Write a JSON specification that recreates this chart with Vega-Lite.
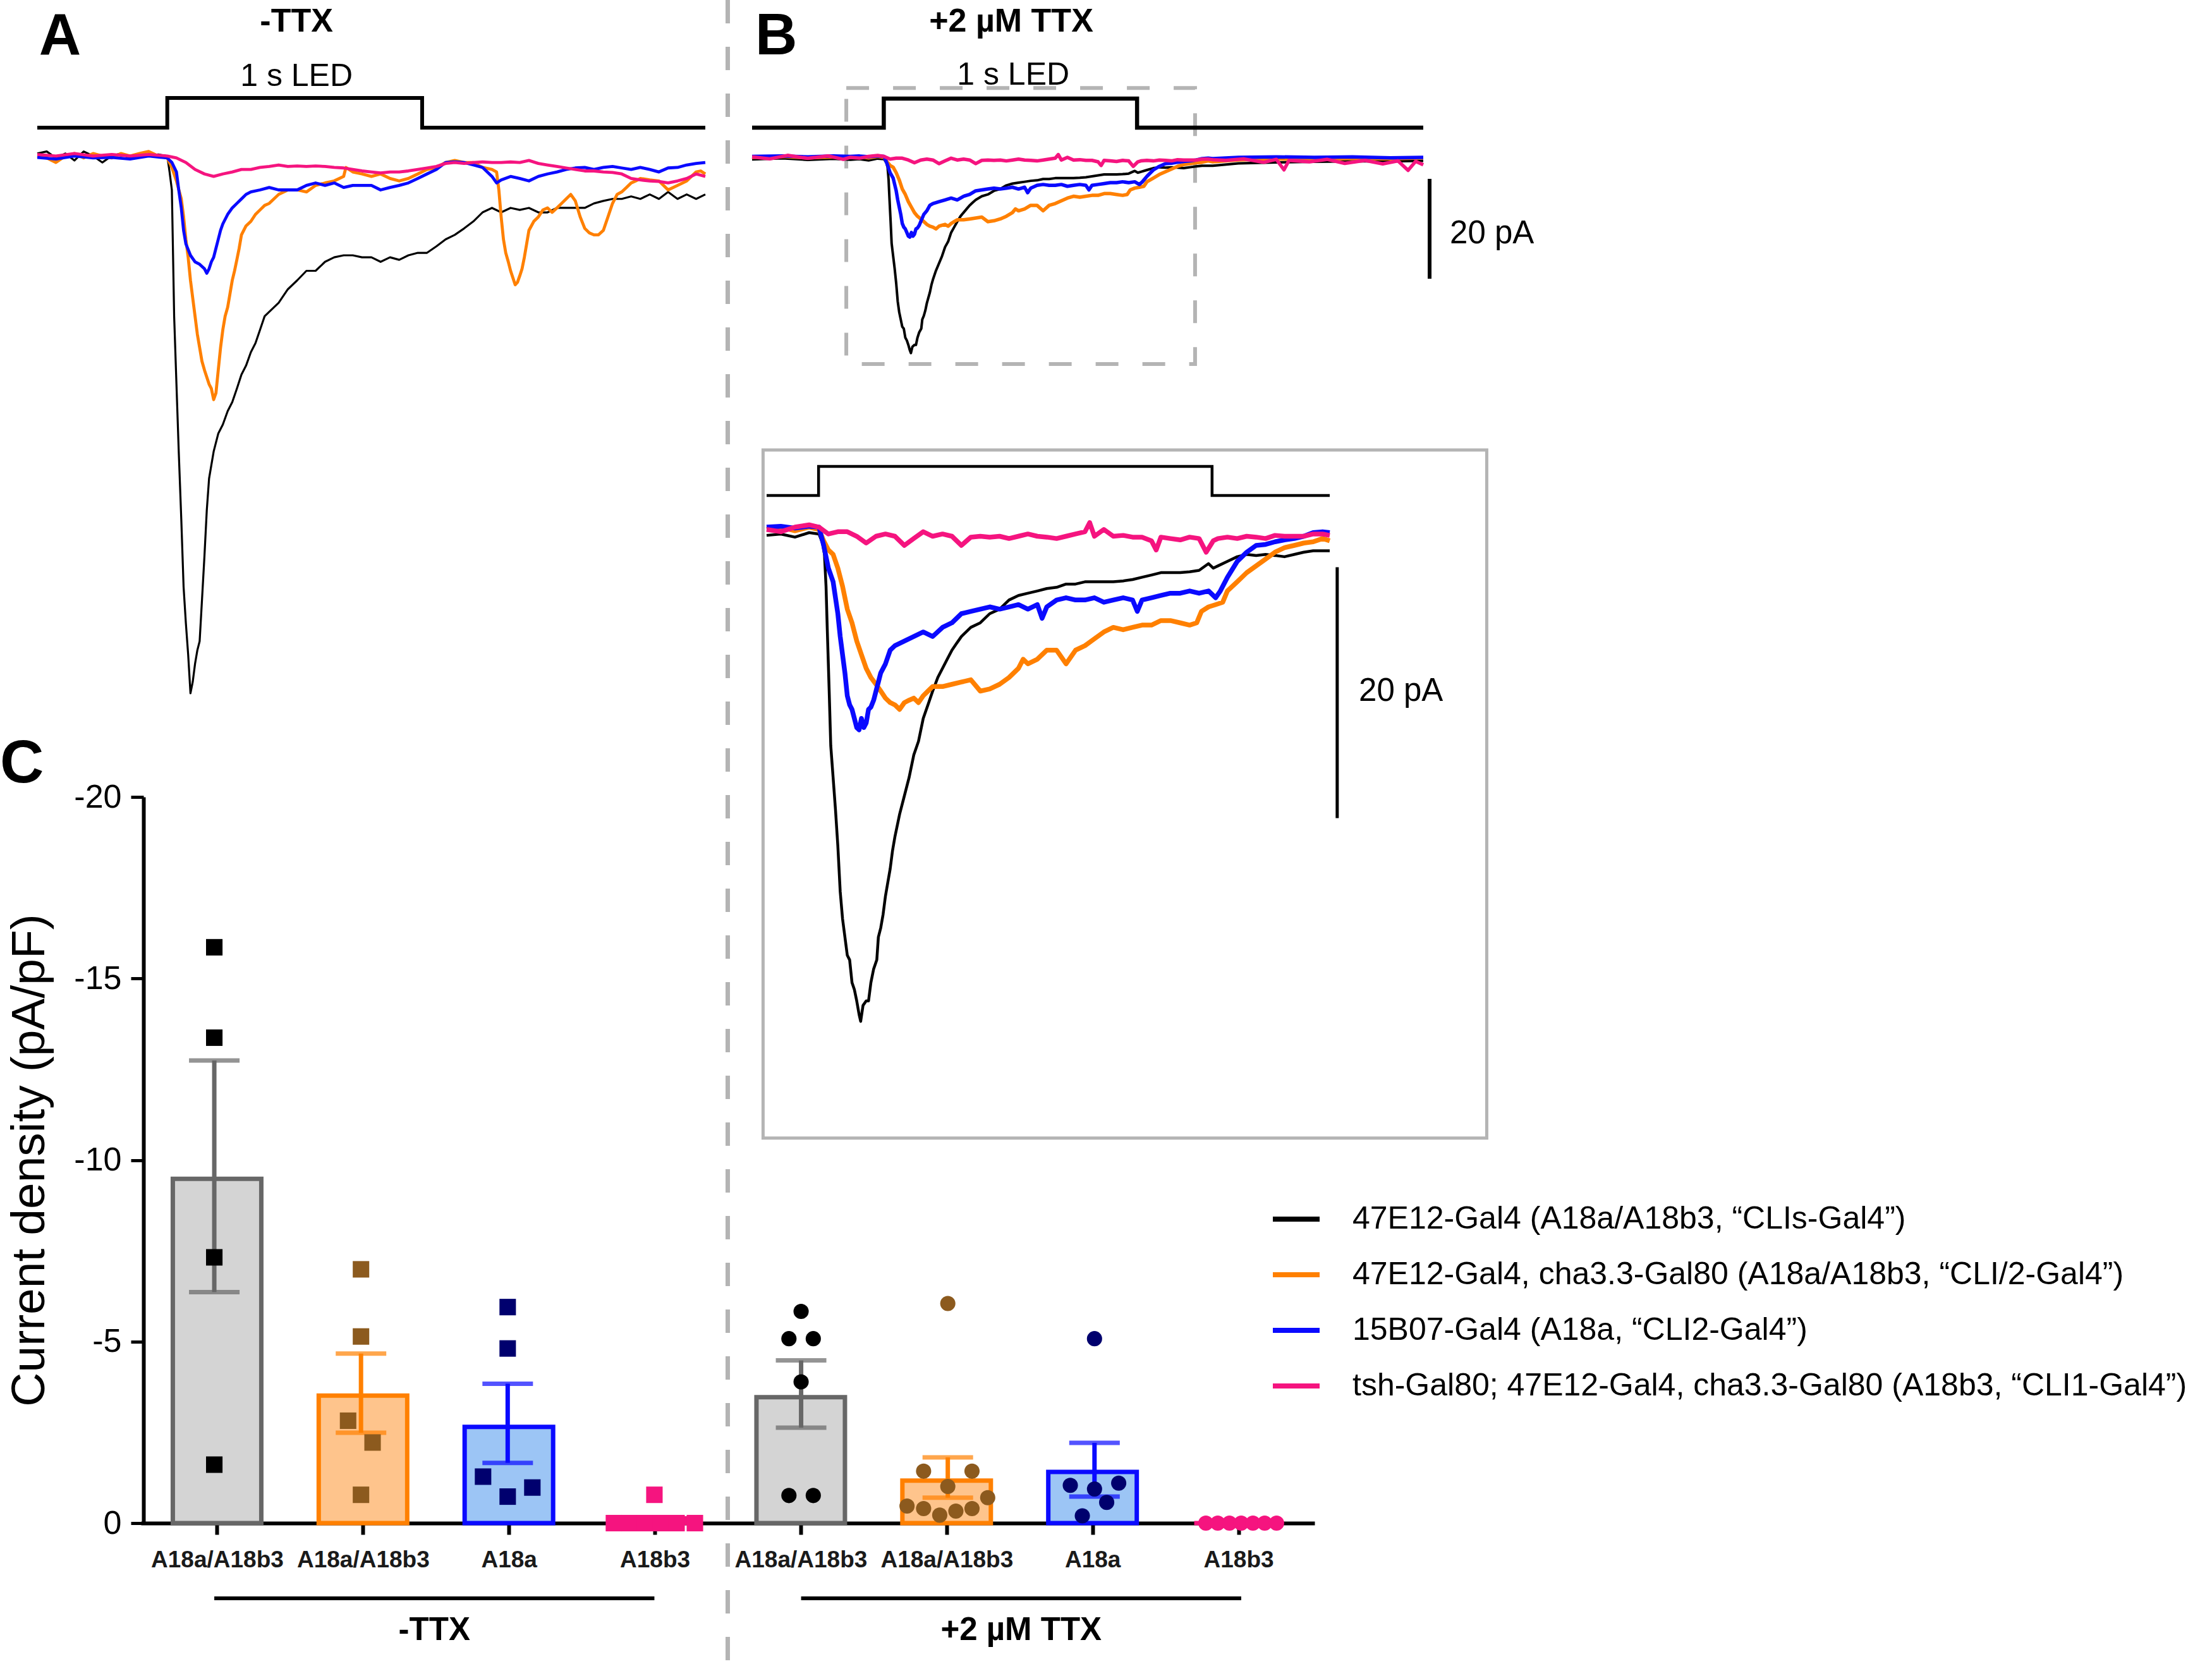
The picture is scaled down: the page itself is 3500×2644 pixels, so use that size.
{
"$schema": "https://vega.github.io/schema/vega-lite/v6.json",
"width": 3500, "height": 2644, "autosize": "none", "padding": 0, "background": "white",
"config": {"view": {"stroke": null}, "font": "Liberation Sans"},
"resolve": {"scale": {"x": "independent", "y": "independent", "color": "independent", "shape": "independent", "size": "independent"}, "axis": {"x": "independent", "y": "independent"}, "legend": {"color": "independent", "shape": "independent", "size": "independent"}},
"datasets": {
"tA": [
{"s":"k1","t":-0.510,"i":0.4},{"s":"k1","t":-0.473,"i":0.8},{"s":"k1","t":-0.437,"i":-0.5},{"s":"k1","t":-0.400,"i":0.4},{"s":"k1","t":-0.364,"i":-1.0},{"s":"k1","t":-0.328,"i":0.8},{"s":"k1","t":-0.291,"i":-0.1},{"s":"k1","t":-0.255,"i":-1.4},{"s":"k1","t":-0.218,"i":-0.1},{"s":"k1","t":-0.182,"i":0.4},{"s":"k1","t":-0.146,"i":-0.5},{"s":"k1","t":-0.109,"i":0.4},{"s":"k1","t":-0.073,"i":-0.1},{"s":"k1","t":-0.036,"i":0.2},{"s":"k1","t":0,"i":-0.1},{"s":"k1","t":0.009,"i":-3.3},{"s":"k1","t":0.018,"i":-6.9},{"s":"k1","t":0.027,"i":-32.2},{"s":"k1","t":0.036,"i":-45.8},{"s":"k1","t":0.045,"i":-59.3},{"s":"k1","t":0.055,"i":-72.9},{"s":"k1","t":0.064,"i":-86.4},{"s":"k1","t":0.073,"i":-93.7},{"s":"k1","t":0.082,"i":-100.0},{"s":"k1","t":0.091,"i":-107.7},{"s":"k1","t":0.100,"i":-105.4},{"s":"k1","t":0.109,"i":-101.8},{"s":"k1","t":0.118,"i":-99.1},{"s":"k1","t":0.127,"i":-97.3},{"s":"k1","t":0.136,"i":-89.2},{"s":"k1","t":0.146,"i":-80.1},{"s":"k1","t":0.155,"i":-71.1},{"s":"k1","t":0.164,"i":-64.7},{"s":"k1","t":0.182,"i":-59.3},{"s":"k1","t":0.200,"i":-55.7},{"s":"k1","t":0.218,"i":-53.9},{"s":"k1","t":0.237,"i":-51.2},{"s":"k1","t":0.255,"i":-49.4},{"s":"k1","t":0.273,"i":-46.7},{"s":"k1","t":0.291,"i":-43.9},{"s":"k1","t":0.309,"i":-42.1},{"s":"k1","t":0.328,"i":-39.4},{"s":"k1","t":0.346,"i":-37.6},{"s":"k1","t":0.364,"i":-34.9},{"s":"k1","t":0.382,"i":-32.2},{"s":"k1","t":0.400,"i":-31.3},{"s":"k1","t":0.437,"i":-29.5},{"s":"k1","t":0.473,"i":-26.8},{"s":"k1","t":0.510,"i":-25.0},{"s":"k1","t":0.546,"i":-23.1},{"s":"k1","t":0.582,"i":-23.1},{"s":"k1","t":0.619,"i":-21.3},{"s":"k1","t":0.655,"i":-20.4},{"s":"k1","t":0.692,"i":-20.0},{"s":"k1","t":0.728,"i":-20.0},{"s":"k1","t":0.764,"i":-20.4},{"s":"k1","t":0.801,"i":-20.4},{"s":"k1","t":0.837,"i":-21.3},{"s":"k1","t":0.874,"i":-20.4},{"s":"k1","t":0.910,"i":-20.9},{"s":"k1","t":0.946,"i":-20.0},{"s":"k1","t":0.983,"i":-19.5},{"s":"k1","t":1.019,"i":-19.5},{"s":"k1","t":1.056,"i":-18.2},{"s":"k1","t":1.092,"i":-16.8},{"s":"k1","t":1.128,"i":-15.9},{"s":"k1","t":1.165,"i":-14.6},{"s":"k1","t":1.201,"i":-13.2},{"s":"k1","t":1.237,"i":-11.4},{"s":"k1","t":1.274,"i":-10.5},{"s":"k1","t":1.310,"i":-11.4},{"s":"k1","t":1.347,"i":-10.5},{"s":"k1","t":1.383,"i":-10.9},{"s":"k1","t":1.419,"i":-10.5},{"s":"k1","t":1.456,"i":-11.4},{"s":"k1","t":1.492,"i":-11.4},{"s":"k1","t":1.529,"i":-10.5},{"s":"k1","t":1.565,"i":-10.5},{"s":"k1","t":1.601,"i":-10.5},{"s":"k1","t":1.638,"i":-10.5},{"s":"k1","t":1.674,"i":-9.6},{"s":"k1","t":1.711,"i":-9.1},{"s":"k1","t":1.747,"i":-8.7},{"s":"k1","t":1.783,"i":-8.7},{"s":"k1","t":1.820,"i":-8.2},{"s":"k1","t":1.856,"i":-8.7},{"s":"k1","t":1.893,"i":-7.8},{"s":"k1","t":1.929,"i":-8.7},{"s":"k1","t":1.965,"i":-7.3},{"s":"k1","t":2.002,"i":-8.7},{"s":"k1","t":2.038,"i":-7.8},{"s":"k1","t":2.075,"i":-8.7},{"s":"k1","t":2.111,"i":-7.8},
{"s":"k2","t":-0.510,"i":-0.1},{"s":"k2","t":-0.473,"i":-0.5},{"s":"k2","t":-0.437,"i":-1.4},{"s":"k2","t":-0.400,"i":-0.1},{"s":"k2","t":-0.364,"i":0.4},{"s":"k2","t":-0.328,"i":-0.5},{"s":"k2","t":-0.291,"i":0.4},{"s":"k2","t":-0.255,"i":-0.1},{"s":"k2","t":-0.218,"i":-0.5},{"s":"k2","t":-0.182,"i":0.4},{"s":"k2","t":-0.146,"i":-0.1},{"s":"k2","t":-0.109,"i":0.4},{"s":"k2","t":-0.073,"i":0.8},{"s":"k2","t":-0.036,"i":-0.1},{"s":"k2","t":0,"i":-0.5},{"s":"k2","t":0.018,"i":-2.4},{"s":"k2","t":0.036,"i":-5.1},{"s":"k2","t":0.055,"i":-8.7},{"s":"k2","t":0.064,"i":-12.3},{"s":"k2","t":0.073,"i":-16.8},{"s":"k2","t":0.082,"i":-20.4},{"s":"k2","t":0.091,"i":-25.0},{"s":"k2","t":0.100,"i":-28.6},{"s":"k2","t":0.109,"i":-32.2},{"s":"k2","t":0.118,"i":-35.8},{"s":"k2","t":0.127,"i":-38.5},{"s":"k2","t":0.136,"i":-41.2},{"s":"k2","t":0.146,"i":-43.0},{"s":"k2","t":0.155,"i":-44.4},{"s":"k2","t":0.164,"i":-45.8},{"s":"k2","t":0.173,"i":-46.7},{"s":"k2","t":0.182,"i":-48.9},{"s":"k2","t":0.191,"i":-47.6},{"s":"k2","t":0.200,"i":-43.0},{"s":"k2","t":0.209,"i":-38.5},{"s":"k2","t":0.218,"i":-34.9},{"s":"k2","t":0.227,"i":-32.2},{"s":"k2","t":0.237,"i":-30.4},{"s":"k2","t":0.246,"i":-27.7},{"s":"k2","t":0.255,"i":-25.0},{"s":"k2","t":0.264,"i":-23.1},{"s":"k2","t":0.273,"i":-20.9},{"s":"k2","t":0.282,"i":-18.6},{"s":"k2","t":0.291,"i":-15.9},{"s":"k2","t":0.309,"i":-14.1},{"s":"k2","t":0.328,"i":-13.2},{"s":"k2","t":0.346,"i":-11.8},{"s":"k2","t":0.364,"i":-10.9},{"s":"k2","t":0.382,"i":-10.0},{"s":"k2","t":0.400,"i":-9.6},{"s":"k2","t":0.437,"i":-7.8},{"s":"k2","t":0.473,"i":-6.9},{"s":"k2","t":0.510,"i":-6.9},{"s":"k2","t":0.546,"i":-7.3},{"s":"k2","t":0.582,"i":-6.0},{"s":"k2","t":0.619,"i":-5.5},{"s":"k2","t":0.655,"i":-5.1},{"s":"k2","t":0.692,"i":-4.2},{"s":"k2","t":0.701,"i":-2.4},{"s":"k2","t":0.728,"i":-3.3},{"s":"k2","t":0.764,"i":-3.7},{"s":"k2","t":0.801,"i":-4.2},{"s":"k2","t":0.837,"i":-3.7},{"s":"k2","t":0.874,"i":-4.6},{"s":"k2","t":0.910,"i":-5.1},{"s":"k2","t":0.946,"i":-4.6},{"s":"k2","t":0.983,"i":-3.7},{"s":"k2","t":1.019,"i":-2.8},{"s":"k2","t":1.056,"i":-2.4},{"s":"k2","t":1.092,"i":-1.4},{"s":"k2","t":1.128,"i":-1.0},{"s":"k2","t":1.165,"i":-1.4},{"s":"k2","t":1.201,"i":-1.4},{"s":"k2","t":1.237,"i":-2.4},{"s":"k2","t":1.274,"i":-2.8},{"s":"k2","t":1.292,"i":-3.3},{"s":"k2","t":1.301,"i":-6.9},{"s":"k2","t":1.310,"i":-12.3},{"s":"k2","t":1.319,"i":-16.8},{"s":"k2","t":1.328,"i":-19.5},{"s":"k2","t":1.338,"i":-21.3},{"s":"k2","t":1.347,"i":-23.1},{"s":"k2","t":1.356,"i":-24.5},{"s":"k2","t":1.365,"i":-25.9},{"s":"k2","t":1.374,"i":-25.4},{"s":"k2","t":1.383,"i":-24.1},{"s":"k2","t":1.392,"i":-22.7},{"s":"k2","t":1.401,"i":-20.4},{"s":"k2","t":1.410,"i":-17.7},{"s":"k2","t":1.419,"i":-15.0},{"s":"k2","t":1.438,"i":-13.2},{"s":"k2","t":1.456,"i":-12.3},{"s":"k2","t":1.474,"i":-10.9},{"s":"k2","t":1.492,"i":-10.5},{"s":"k2","t":1.510,"i":-11.4},{"s":"k2","t":1.529,"i":-10.5},{"s":"k2","t":1.547,"i":-9.6},{"s":"k2","t":1.565,"i":-8.7},{"s":"k2","t":1.583,"i":-7.8},{"s":"k2","t":1.601,"i":-9.1},{"s":"k2","t":1.620,"i":-12.3},{"s":"k2","t":1.638,"i":-14.6},{"s":"k2","t":1.656,"i":-15.5},{"s":"k2","t":1.674,"i":-15.9},{"s":"k2","t":1.692,"i":-15.9},{"s":"k2","t":1.711,"i":-15.0},{"s":"k2","t":1.729,"i":-12.3},{"s":"k2","t":1.747,"i":-9.6},{"s":"k2","t":1.765,"i":-7.8},{"s":"k2","t":1.783,"i":-7.3},{"s":"k2","t":1.802,"i":-6.4},{"s":"k2","t":1.820,"i":-5.5},{"s":"k2","t":1.838,"i":-5.1},{"s":"k2","t":1.856,"i":-4.6},{"s":"k2","t":1.893,"i":-4.9},{"s":"k2","t":1.929,"i":-5.1},{"s":"k2","t":1.965,"i":-6.9},{"s":"k2","t":2.002,"i":-6.0},{"s":"k2","t":2.038,"i":-5.1},{"s":"k2","t":2.075,"i":-3.3},{"s":"k2","t":2.093,"i":-3.1},{"s":"k2","t":2.111,"i":-3.7},
{"s":"k3","t":-0.510,"i":-0.4},{"s":"k3","t":-0.437,"i":-0.7},{"s":"k3","t":-0.364,"i":-0.1},{"s":"k3","t":-0.291,"i":-0.5},{"s":"k3","t":-0.218,"i":-0.4},{"s":"k3","t":-0.146,"i":-0.7},{"s":"k3","t":-0.073,"i":-0.1},{"s":"k3","t":0,"i":-0.5},{"s":"k3","t":0.018,"i":-1.4},{"s":"k3","t":0.036,"i":-3.3},{"s":"k3","t":0.045,"i":-6.9},{"s":"k3","t":0.055,"i":-10.5},{"s":"k3","t":0.064,"i":-15.0},{"s":"k3","t":0.073,"i":-17.7},{"s":"k3","t":0.091,"i":-20.0},{"s":"k3","t":0.109,"i":-21.3},{"s":"k3","t":0.127,"i":-21.8},{"s":"k3","t":0.146,"i":-22.7},{"s":"k3","t":0.155,"i":-23.6},{"s":"k3","t":0.164,"i":-22.7},{"s":"k3","t":0.173,"i":-21.3},{"s":"k3","t":0.182,"i":-20.4},{"s":"k3","t":0.191,"i":-18.6},{"s":"k3","t":0.200,"i":-16.8},{"s":"k3","t":0.209,"i":-15.0},{"s":"k3","t":0.218,"i":-13.7},{"s":"k3","t":0.237,"i":-11.8},{"s":"k3","t":0.255,"i":-10.5},{"s":"k3","t":0.273,"i":-9.6},{"s":"k3","t":0.291,"i":-8.7},{"s":"k3","t":0.309,"i":-7.8},{"s":"k3","t":0.328,"i":-7.3},{"s":"k3","t":0.364,"i":-6.9},{"s":"k3","t":0.400,"i":-6.4},{"s":"k3","t":0.437,"i":-6.9},{"s":"k3","t":0.473,"i":-6.9},{"s":"k3","t":0.510,"i":-6.9},{"s":"k3","t":0.546,"i":-6.0},{"s":"k3","t":0.582,"i":-5.5},{"s":"k3","t":0.619,"i":-6.0},{"s":"k3","t":0.655,"i":-5.5},{"s":"k3","t":0.692,"i":-6.4},{"s":"k3","t":0.728,"i":-6.0},{"s":"k3","t":0.764,"i":-6.0},{"s":"k3","t":0.801,"i":-6.0},{"s":"k3","t":0.837,"i":-6.9},{"s":"k3","t":0.874,"i":-6.4},{"s":"k3","t":0.910,"i":-6.0},{"s":"k3","t":0.946,"i":-5.5},{"s":"k3","t":0.983,"i":-4.6},{"s":"k3","t":1.019,"i":-3.7},{"s":"k3","t":1.056,"i":-2.8},{"s":"k3","t":1.092,"i":-1.4},{"s":"k3","t":1.128,"i":-1.3},{"s":"k3","t":1.165,"i":-1.4},{"s":"k3","t":1.201,"i":-1.9},{"s":"k3","t":1.237,"i":-2.4},{"s":"k3","t":1.274,"i":-4.2},{"s":"k3","t":1.292,"i":-5.5},{"s":"k3","t":1.310,"i":-4.9},{"s":"k3","t":1.347,"i":-4.2},{"s":"k3","t":1.383,"i":-4.6},{"s":"k3","t":1.419,"i":-5.1},{"s":"k3","t":1.456,"i":-4.2},{"s":"k3","t":1.492,"i":-3.7},{"s":"k3","t":1.529,"i":-3.3},{"s":"k3","t":1.565,"i":-2.8},{"s":"k3","t":1.601,"i":-2.5},{"s":"k3","t":1.638,"i":-2.4},{"s":"k3","t":1.674,"i":-2.8},{"s":"k3","t":1.711,"i":-2.4},{"s":"k3","t":1.747,"i":-2.2},{"s":"k3","t":1.783,"i":-2.5},{"s":"k3","t":1.820,"i":-2.8},{"s":"k3","t":1.856,"i":-2.4},{"s":"k3","t":1.893,"i":-2.8},{"s":"k3","t":1.929,"i":-3.3},{"s":"k3","t":1.965,"i":-2.5},{"s":"k3","t":2.002,"i":-2.4},{"s":"k3","t":2.038,"i":-1.9},{"s":"k3","t":2.075,"i":-1.6},{"s":"k3","t":2.111,"i":-1.4},
{"s":"k4","t":-0.510,"i":0.2},{"s":"k4","t":-0.437,"i":-0.1},{"s":"k4","t":-0.364,"i":0.4},{"s":"k4","t":-0.291,"i":-0.1},{"s":"k4","t":-0.218,"i":0.2},{"s":"k4","t":-0.146,"i":-0.1},{"s":"k4","t":-0.073,"i":0.2},{"s":"k4","t":0,"i":-0.1},{"s":"k4","t":0.036,"i":-0.5},{"s":"k4","t":0.073,"i":-1.4},{"s":"k4","t":0.109,"i":-2.8},{"s":"k4","t":0.146,"i":-3.7},{"s":"k4","t":0.182,"i":-4.2},{"s":"k4","t":0.218,"i":-3.7},{"s":"k4","t":0.255,"i":-3.3},{"s":"k4","t":0.291,"i":-2.8},{"s":"k4","t":0.328,"i":-2.8},{"s":"k4","t":0.364,"i":-2.4},{"s":"k4","t":0.400,"i":-2.2},{"s":"k4","t":0.437,"i":-1.9},{"s":"k4","t":0.473,"i":-2.2},{"s":"k4","t":0.510,"i":-2.1},{"s":"k4","t":0.546,"i":-2.2},{"s":"k4","t":0.582,"i":-2.1},{"s":"k4","t":0.619,"i":-2.2},{"s":"k4","t":0.655,"i":-2.4},{"s":"k4","t":0.692,"i":-2.5},{"s":"k4","t":0.728,"i":-2.8},{"s":"k4","t":0.764,"i":-3.1},{"s":"k4","t":0.801,"i":-3.3},{"s":"k4","t":0.837,"i":-3.5},{"s":"k4","t":0.874,"i":-3.3},{"s":"k4","t":0.910,"i":-3.3},{"s":"k4","t":0.946,"i":-3.1},{"s":"k4","t":0.983,"i":-2.8},{"s":"k4","t":1.019,"i":-2.5},{"s":"k4","t":1.056,"i":-2.2},{"s":"k4","t":1.092,"i":-1.6},{"s":"k4","t":1.128,"i":-1.4},{"s":"k4","t":1.165,"i":-1.6},{"s":"k4","t":1.201,"i":-1.4},{"s":"k4","t":1.237,"i":-1.3},{"s":"k4","t":1.274,"i":-1.4},{"s":"k4","t":1.310,"i":-1.4},{"s":"k4","t":1.347,"i":-1.3},{"s":"k4","t":1.383,"i":-1.4},{"s":"k4","t":1.419,"i":-1.0},{"s":"k4","t":1.456,"i":-1.6},{"s":"k4","t":1.492,"i":-1.9},{"s":"k4","t":1.529,"i":-2.2},{"s":"k4","t":1.565,"i":-2.5},{"s":"k4","t":1.601,"i":-2.8},{"s":"k4","t":1.638,"i":-3.1},{"s":"k4","t":1.674,"i":-3.1},{"s":"k4","t":1.711,"i":-3.3},{"s":"k4","t":1.747,"i":-3.4},{"s":"k4","t":1.783,"i":-3.7},{"s":"k4","t":1.820,"i":-4.6},{"s":"k4","t":1.856,"i":-4.9},{"s":"k4","t":1.893,"i":-5.1},{"s":"k4","t":1.929,"i":-5.2},{"s":"k4","t":1.965,"i":-5.5},{"s":"k4","t":2.002,"i":-5.1},{"s":"k4","t":2.038,"i":-4.6},{"s":"k4","t":2.075,"i":-3.7},{"s":"k4","t":2.111,"i":-4.2}
],
"tB": [
{"s":"k1","t":-0.52,"i":-0.4},{"s":"k1","t":-0.40,"i":-0.2},{"s":"k1","t":-0.30,"i":-0.5},{"s":"k1","t":-0.20,"i":-0.3},{"s":"k1","t":-0.132,"i":-0.46},{"s":"k1","t":-0.096,"i":-0.35},{"s":"k1","t":-0.060,"i":-0.60},{"s":"k1","t":-0.024,"i":-0.24},{"s":"k1","t":0.001,"i":-0.35},{"s":"k1","t":0.010,"i":-1.07},{"s":"k1","t":0.015,"i":-1.98},{"s":"k1","t":0.019,"i":-4.52},{"s":"k1","t":0.022,"i":-7.79},{"s":"k1","t":0.027,"i":-12.87},{"s":"k1","t":0.031,"i":-17.23},{"s":"k1","t":0.037,"i":-19.77},{"s":"k1","t":0.043,"i":-22.32},{"s":"k1","t":0.049,"i":-25.22},{"s":"k1","t":0.055,"i":-28.85},{"s":"k1","t":0.061,"i":-31.03},{"s":"k1","t":0.067,"i":-32.48},{"s":"k1","t":0.073,"i":-33.93},{"s":"k1","t":0.079,"i":-34.30},{"s":"k1","t":0.085,"i":-36.11},{"s":"k1","t":0.091,"i":-36.66},{"s":"k1","t":0.097,"i":-37.57},{"s":"k1","t":0.103,"i":-38.65},{"s":"k1","t":0.107,"i":-39.20},{"s":"k1","t":0.113,"i":-37.93},{"s":"k1","t":0.121,"i":-37.57},{"s":"k1","t":0.127,"i":-37.57},{"s":"k1","t":0.133,"i":-36.11},{"s":"k1","t":0.140,"i":-35.02},{"s":"k1","t":0.148,"i":-34.30},{"s":"k1","t":0.152,"i":-32.48},{"s":"k1","t":0.158,"i":-31.75},{"s":"k1","t":0.164,"i":-30.67},{"s":"k1","t":0.170,"i":-29.21},{"s":"k1","t":0.176,"i":-28.12},{"s":"k1","t":0.182,"i":-27.04},{"s":"k1","t":0.188,"i":-25.58},{"s":"k1","t":0.194,"i":-24.49},{"s":"k1","t":0.206,"i":-22.68},{"s":"k1","t":0.218,"i":-21.23},{"s":"k1","t":0.230,"i":-19.77},{"s":"k1","t":0.242,"i":-17.96},{"s":"k1","t":0.254,"i":-16.87},{"s":"k1","t":0.266,"i":-15.05},{"s":"k1","t":0.278,"i":-13.97},{"s":"k1","t":0.290,"i":-12.87},{"s":"k1","t":0.303,"i":-11.79},{"s":"k1","t":0.315,"i":-11.06},{"s":"k1","t":0.327,"i":-10.33},{"s":"k1","t":0.339,"i":-9.61},{"s":"k1","t":0.351,"i":-9.06},{"s":"k1","t":0.363,"i":-8.52},{"s":"k1","t":0.387,"i":-7.79},{"s":"k1","t":0.411,"i":-7.43},{"s":"k1","t":0.435,"i":-6.70},{"s":"k1","t":0.460,"i":-6.34},{"s":"k1","t":0.484,"i":-5.61},{"s":"k1","t":0.508,"i":-5.25},{"s":"k1","t":0.532,"i":-5.07},{"s":"k1","t":0.556,"i":-4.89},{"s":"k1","t":0.580,"i":-4.70},{"s":"k1","t":0.605,"i":-4.60},{"s":"k1","t":0.629,"i":-4.34},{"s":"k1","t":0.653,"i":-4.34},{"s":"k1","t":0.677,"i":-4.16},{"s":"k1","t":0.701,"i":-4.16},{"s":"k1","t":0.725,"i":-4.16},{"s":"k1","t":0.749,"i":-4.16},{"s":"k1","t":0.774,"i":-4.09},{"s":"k1","t":0.798,"i":-3.98},{"s":"k1","t":0.822,"i":-3.80},{"s":"k1","t":0.846,"i":-3.62},{"s":"k1","t":0.870,"i":-3.43},{"s":"k1","t":0.894,"i":-3.43},{"s":"k1","t":0.919,"i":-3.43},{"s":"k1","t":0.943,"i":-3.36},{"s":"k1","t":0.967,"i":-3.25},{"s":"k1","t":0.991,"i":-2.71},{"s":"k1","t":1.003,"i":-3.07},{"s":"k1","t":1.015,"i":-2.89},{"s":"k1","t":1.039,"i":-2.53},{"s":"k1","t":1.064,"i":-2.16},{"s":"k1","t":1.088,"i":-1.98},{"s":"k1","t":1.112,"i":-2.06},{"s":"k1","t":1.136,"i":-1.98},{"s":"k1","t":1.160,"i":-2.06},{"s":"k1","t":1.184,"i":-2.16},{"s":"k1","t":1.209,"i":-1.98},{"s":"k1","t":1.233,"i":-1.80},{"s":"k1","t":1.257,"i":-1.69},{"s":"k1","t":1.281,"i":-1.69},{"s":"k1","t":1.299,"i":-1.69},{"s":"k1","t":1.40,"i":-1.2},{"s":"k1","t":1.55,"i":-1.0},{"s":"k1","t":1.70,"i":-0.9},{"s":"k1","t":1.85,"i":-0.8},{"s":"k1","t":2.00,"i":-0.8},{"s":"k1","t":2.13,"i":-0.7},
{"s":"k2","t":-0.52,"i":0.0},{"s":"k2","t":-0.40,"i":0.2},{"s":"k2","t":-0.30,"i":-0.1},{"s":"k2","t":-0.20,"i":0.1},{"s":"k2","t":-0.132,"i":0.01},{"s":"k2","t":-0.096,"i":0.20},{"s":"k2","t":-0.060,"i":-0.09},{"s":"k2","t":-0.024,"i":0.20},{"s":"k2","t":0.001,"i":0.01},{"s":"k2","t":0.013,"i":-0.89},{"s":"k2","t":0.025,"i":-1.62},{"s":"k2","t":0.037,"i":-1.98},{"s":"k2","t":0.049,"i":-3.07},{"s":"k2","t":0.061,"i":-4.52},{"s":"k2","t":0.073,"i":-6.34},{"s":"k2","t":0.085,"i":-7.43},{"s":"k2","t":0.097,"i":-8.88},{"s":"k2","t":0.109,"i":-9.97},{"s":"k2","t":0.121,"i":-11.06},{"s":"k2","t":0.133,"i":-11.79},{"s":"k2","t":0.146,"i":-12.33},{"s":"k2","t":0.158,"i":-12.87},{"s":"k2","t":0.170,"i":-13.43},{"s":"k2","t":0.182,"i":-13.79},{"s":"k2","t":0.194,"i":-13.97},{"s":"k2","t":0.206,"i":-14.33},{"s":"k2","t":0.218,"i":-13.79},{"s":"k2","t":0.230,"i":-13.60},{"s":"k2","t":0.242,"i":-13.43},{"s":"k2","t":0.254,"i":-13.79},{"s":"k2","t":0.266,"i":-13.24},{"s":"k2","t":0.278,"i":-12.87},{"s":"k2","t":0.290,"i":-12.51},{"s":"k2","t":0.315,"i":-12.51},{"s":"k2","t":0.339,"i":-12.33},{"s":"k2","t":0.363,"i":-12.15},{"s":"k2","t":0.387,"i":-11.97},{"s":"k2","t":0.411,"i":-12.87},{"s":"k2","t":0.435,"i":-12.70},{"s":"k2","t":0.460,"i":-12.33},{"s":"k2","t":0.484,"i":-11.79},{"s":"k2","t":0.508,"i":-11.06},{"s":"k2","t":0.520,"i":-10.33},{"s":"k2","t":0.532,"i":-10.70},{"s":"k2","t":0.556,"i":-10.33},{"s":"k2","t":0.580,"i":-9.61},{"s":"k2","t":0.605,"i":-9.61},{"s":"k2","t":0.629,"i":-10.70},{"s":"k2","t":0.653,"i":-9.61},{"s":"k2","t":0.677,"i":-9.25},{"s":"k2","t":0.701,"i":-8.70},{"s":"k2","t":0.725,"i":-8.16},{"s":"k2","t":0.749,"i":-7.79},{"s":"k2","t":0.774,"i":-7.98},{"s":"k2","t":0.798,"i":-7.79},{"s":"k2","t":0.822,"i":-7.61},{"s":"k2","t":0.846,"i":-7.61},{"s":"k2","t":0.870,"i":-7.25},{"s":"k2","t":0.894,"i":-7.25},{"s":"k2","t":0.919,"i":-7.43},{"s":"k2","t":0.943,"i":-7.61},{"s":"k2","t":0.961,"i":-7.43},{"s":"k2","t":0.973,"i":-6.52},{"s":"k2","t":0.991,"i":-6.16},{"s":"k2","t":1.009,"i":-5.98},{"s":"k2","t":1.027,"i":-5.79},{"s":"k2","t":1.039,"i":-4.89},{"s":"k2","t":1.064,"i":-4.16},{"s":"k2","t":1.088,"i":-3.43},{"s":"k2","t":1.112,"i":-2.89},{"s":"k2","t":1.136,"i":-2.35},{"s":"k2","t":1.160,"i":-1.80},{"s":"k2","t":1.184,"i":-1.44},{"s":"k2","t":1.209,"i":-1.26},{"s":"k2","t":1.233,"i":-1.07},{"s":"k2","t":1.257,"i":-0.97},{"s":"k2","t":1.281,"i":-0.71},{"s":"k2","t":1.299,"i":-0.89},{"s":"k2","t":1.40,"i":-0.5},{"s":"k2","t":1.55,"i":-0.3},{"s":"k2","t":1.70,"i":-0.4},{"s":"k2","t":1.85,"i":-0.2},{"s":"k2","t":2.00,"i":-0.3},{"s":"k2","t":2.13,"i":-0.1},
{"s":"k3","t":-0.52,"i":0.2},{"s":"k3","t":-0.40,"i":0.3},{"s":"k3","t":-0.30,"i":0.1},{"s":"k3","t":-0.20,"i":0.3},{"s":"k3","t":-0.132,"i":0.20},{"s":"k3","t":-0.096,"i":0.27},{"s":"k3","t":-0.060,"i":0.12},{"s":"k3","t":-0.024,"i":0.27},{"s":"k3","t":0.001,"i":0.20},{"s":"k3","t":0.013,"i":-1.26},{"s":"k3","t":0.025,"i":-3.07},{"s":"k3","t":0.037,"i":-4.16},{"s":"k3","t":0.049,"i":-6.70},{"s":"k3","t":0.055,"i":-8.52},{"s":"k3","t":0.061,"i":-9.97},{"s":"k3","t":0.067,"i":-11.42},{"s":"k3","t":0.073,"i":-13.24},{"s":"k3","t":0.079,"i":-13.97},{"s":"k3","t":0.085,"i":-14.33},{"s":"k3","t":0.091,"i":-15.05},{"s":"k3","t":0.097,"i":-15.78},{"s":"k3","t":0.103,"i":-15.96},{"s":"k3","t":0.109,"i":-15.05},{"s":"k3","t":0.115,"i":-15.78},{"s":"k3","t":0.121,"i":-15.42},{"s":"k3","t":0.127,"i":-14.33},{"s":"k3","t":0.133,"i":-14.15},{"s":"k3","t":0.140,"i":-13.60},{"s":"k3","t":0.146,"i":-12.87},{"s":"k3","t":0.152,"i":-12.15},{"s":"k3","t":0.158,"i":-11.42},{"s":"k3","t":0.170,"i":-10.70},{"s":"k3","t":0.182,"i":-9.61},{"s":"k3","t":0.194,"i":-9.25},{"s":"k3","t":0.218,"i":-8.88},{"s":"k3","t":0.242,"i":-8.52},{"s":"k3","t":0.266,"i":-8.16},{"s":"k3","t":0.290,"i":-8.52},{"s":"k3","t":0.315,"i":-7.79},{"s":"k3","t":0.339,"i":-7.43},{"s":"k3","t":0.363,"i":-6.70},{"s":"k3","t":0.387,"i":-6.52},{"s":"k3","t":0.411,"i":-6.34},{"s":"k3","t":0.435,"i":-6.16},{"s":"k3","t":0.460,"i":-6.34},{"s":"k3","t":0.484,"i":-6.16},{"s":"k3","t":0.508,"i":-5.98},{"s":"k3","t":0.532,"i":-6.34},{"s":"k3","t":0.556,"i":-5.98},{"s":"k3","t":0.568,"i":-7.07},{"s":"k3","t":0.580,"i":-6.16},{"s":"k3","t":0.605,"i":-5.61},{"s":"k3","t":0.629,"i":-5.43},{"s":"k3","t":0.653,"i":-5.61},{"s":"k3","t":0.677,"i":-5.61},{"s":"k3","t":0.701,"i":-5.43},{"s":"k3","t":0.725,"i":-5.79},{"s":"k3","t":0.749,"i":-5.61},{"s":"k3","t":0.774,"i":-5.43},{"s":"k3","t":0.798,"i":-5.61},{"s":"k3","t":0.810,"i":-6.52},{"s":"k3","t":0.822,"i":-5.61},{"s":"k3","t":0.846,"i":-5.43},{"s":"k3","t":0.870,"i":-5.25},{"s":"k3","t":0.894,"i":-5.07},{"s":"k3","t":0.919,"i":-5.07},{"s":"k3","t":0.943,"i":-4.89},{"s":"k3","t":0.967,"i":-5.07},{"s":"k3","t":0.991,"i":-4.89},{"s":"k3","t":1.009,"i":-5.43},{"s":"k3","t":1.021,"i":-4.89},{"s":"k3","t":1.039,"i":-3.80},{"s":"k3","t":1.064,"i":-2.53},{"s":"k3","t":1.088,"i":-1.80},{"s":"k3","t":1.112,"i":-1.26},{"s":"k3","t":1.136,"i":-1.18},{"s":"k3","t":1.160,"i":-0.97},{"s":"k3","t":1.184,"i":-0.82},{"s":"k3","t":1.209,"i":-0.71},{"s":"k3","t":1.233,"i":-0.53},{"s":"k3","t":1.257,"i":-0.24},{"s":"k3","t":1.281,"i":-0.17},{"s":"k3","t":1.299,"i":-0.24},{"s":"k3","t":1.40,"i":0.0},{"s":"k3","t":1.55,"i":0.1},{"s":"k3","t":1.70,"i":0.0},{"s":"k3","t":1.85,"i":0.1},{"s":"k3","t":2.00,"i":-0.1},{"s":"k3","t":2.13,"i":0.0},
{"s":"k4","t":-0.52,"i":0.1},{"s":"k4","t":-0.45,"i":-0.3},{"s":"k4","t":-0.38,"i":0.4},{"s":"k4","t":-0.30,"i":-0.2},{"s":"k4","t":-0.22,"i":0.3},{"s":"k4","t":-0.16,"i":-0.4},{"s":"k4","t":-0.132,"i":0.01},{"s":"k4","t":-0.096,"i":-0.17},{"s":"k4","t":-0.060,"i":0.20},{"s":"k4","t":-0.024,"i":0.38},{"s":"k4","t":0.001,"i":0.20},{"s":"k4","t":0.025,"i":-0.35},{"s":"k4","t":0.049,"i":-0.17},{"s":"k4","t":0.073,"i":-0.17},{"s":"k4","t":0.097,"i":-0.53},{"s":"k4","t":0.121,"i":-1.07},{"s":"k4","t":0.146,"i":-0.53},{"s":"k4","t":0.170,"i":-0.35},{"s":"k4","t":0.194,"i":-0.53},{"s":"k4","t":0.218,"i":-1.26},{"s":"k4","t":0.242,"i":-0.71},{"s":"k4","t":0.266,"i":-0.17},{"s":"k4","t":0.290,"i":-0.53},{"s":"k4","t":0.315,"i":-0.35},{"s":"k4","t":0.339,"i":-0.53},{"s":"k4","t":0.363,"i":-1.26},{"s":"k4","t":0.387,"i":-0.60},{"s":"k4","t":0.411,"i":-0.53},{"s":"k4","t":0.435,"i":-0.60},{"s":"k4","t":0.460,"i":-0.53},{"s":"k4","t":0.484,"i":-0.71},{"s":"k4","t":0.508,"i":-0.53},{"s":"k4","t":0.532,"i":-0.35},{"s":"k4","t":0.556,"i":-0.53},{"s":"k4","t":0.580,"i":-0.60},{"s":"k4","t":0.605,"i":-0.71},{"s":"k4","t":0.629,"i":-0.53},{"s":"k4","t":0.653,"i":-0.35},{"s":"k4","t":0.677,"i":-0.17},{"s":"k4","t":0.689,"i":0.56},{"s":"k4","t":0.701,"i":-0.53},{"s":"k4","t":0.725,"i":0.01},{"s":"k4","t":0.749,"i":-0.53},{"s":"k4","t":0.774,"i":-0.46},{"s":"k4","t":0.798,"i":-0.60},{"s":"k4","t":0.822,"i":-0.60},{"s":"k4","t":0.846,"i":-0.89},{"s":"k4","t":0.858,"i":-1.62},{"s":"k4","t":0.870,"i":-0.60},{"s":"k4","t":0.894,"i":-0.71},{"s":"k4","t":0.919,"i":-0.82},{"s":"k4","t":0.943,"i":-0.60},{"s":"k4","t":0.967,"i":-0.71},{"s":"k4","t":0.985,"i":-1.80},{"s":"k4","t":1.003,"i":-0.89},{"s":"k4","t":1.015,"i":-0.71},{"s":"k4","t":1.039,"i":-0.60},{"s":"k4","t":1.064,"i":-0.71},{"s":"k4","t":1.088,"i":-0.53},{"s":"k4","t":1.112,"i":-0.60},{"s":"k4","t":1.136,"i":-0.71},{"s":"k4","t":1.160,"i":-0.46},{"s":"k4","t":1.184,"i":-0.53},{"s":"k4","t":1.209,"i":-0.53},{"s":"k4","t":1.233,"i":-0.53},{"s":"k4","t":1.257,"i":-0.35},{"s":"k4","t":1.281,"i":-0.35},{"s":"k4","t":1.299,"i":-0.46},{"s":"k4","t":1.35,"i":-0.6},{"s":"k4","t":1.42,"i":-0.3},{"s":"k4","t":1.50,"i":-1.0},{"s":"k4","t":1.55,"i":-0.4},{"s":"k4","t":1.58,"i":-2.5},{"s":"k4","t":1.60,"i":-0.6},{"s":"k4","t":1.68,"i":-0.9},{"s":"k4","t":1.75,"i":-0.4},{"s":"k4","t":1.82,"i":-1.2},{"s":"k4","t":1.90,"i":-0.6},{"s":"k4","t":1.97,"i":-1.3},{"s":"k4","t":2.03,"i":-0.7},{"s":"k4","t":2.07,"i":-2.6},{"s":"k4","t":2.10,"i":-0.8},{"s":"k4","t":2.13,"i":-1.5}
],
"bars": [
{"gi":0,"k":"k1","m":-9.48,"lo":-6.36,"hi":-12.74},
{"gi":1,"k":"k2","m":-3.51,"lo":-2.49,"hi":-4.67},
{"gi":2,"k":"k3","m":-2.65,"lo":-1.66,"hi":-3.84},
{"gi":3,"k":"k4","m":-0.13},
{"gi":4,"k":"k1","m":-3.47,"lo":-2.63,"hi":-4.48},
{"gi":5,"k":"k2","m":-1.17,"lo":-0.70,"hi":-1.81},
{"gi":6,"k":"k3","m":-1.41,"lo":-0.73,"hi":-2.21},
{"gi":7,"k":"k4","m":0}
],
"pts": [
{"gi":0,"k":"k1","c":"-TTX","j":0,"v":-15.86},{"gi":0,"k":"k1","c":"-TTX","j":0,"v":-13.37},{"gi":0,"k":"k1","c":"-TTX","j":0,"v":-7.32},{"gi":0,"k":"k1","c":"-TTX","j":0,"v":-1.61},
{"gi":1,"k":"k2","c":"-TTX","j":0,"v":-6.99},{"gi":1,"k":"k2","c":"-TTX","j":0,"v":-5.14},{"gi":1,"k":"k2","c":"-TTX","j":-0.088,"v":-2.82},{"gi":1,"k":"k2","c":"-TTX","j":0.079,"v":-2.22},{"gi":1,"k":"k2","c":"-TTX","j":0,"v":-0.78},
{"gi":2,"k":"k3","c":"-TTX","j":0,"v":-5.95},{"gi":2,"k":"k3","c":"-TTX","j":0,"v":-4.81},{"gi":2,"k":"k3","c":"-TTX","j":-0.168,"v":-1.28},{"gi":2,"k":"k3","c":"-TTX","j":0,"v":-0.73},{"gi":2,"k":"k3","c":"-TTX","j":0.168,"v":-0.98},
{"gi":3,"k":"k4","c":"-TTX","j":0,"v":-0.78},{"gi":3,"k":"k4","c":"-TTX","j":-0.276,"v":0},{"gi":3,"k":"k4","c":"-TTX","j":-0.172,"v":0},{"gi":3,"k":"k4","c":"-TTX","j":-0.065,"v":0},{"gi":3,"k":"k4","c":"-TTX","j":0.043,"v":0},{"gi":3,"k":"k4","c":"-TTX","j":0.151,"v":0},{"gi":3,"k":"k4","c":"-TTX","j":0.276,"v":0},
{"gi":4,"k":"k1","c":"TTX","j":0,"v":-5.83},{"gi":4,"k":"k1","c":"TTX","j":-0.083,"v":-5.08},{"gi":4,"k":"k1","c":"TTX","j":0.083,"v":-5.08},{"gi":4,"k":"k1","c":"TTX","j":0,"v":-3.89},{"gi":4,"k":"k1","c":"TTX","j":-0.083,"v":-0.76},{"gi":4,"k":"k1","c":"TTX","j":0.083,"v":-0.76},
{"gi":5,"k":"k2","c":"TTX","j":0,"v":-6.05},{"gi":5,"k":"k2","c":"TTX","j":-0.165,"v":-1.43},{"gi":5,"k":"k2","c":"TTX","j":0.165,"v":-1.43},{"gi":5,"k":"k2","c":"TTX","j":0,"v":-1.01},{"gi":5,"k":"k2","c":"TTX","j":0.272,"v":-0.70},{"gi":5,"k":"k2","c":"TTX","j":-0.278,"v":-0.47},{"gi":5,"k":"k2","c":"TTX","j":-0.165,"v":-0.40},{"gi":5,"k":"k2","c":"TTX","j":0.055,"v":-0.33},{"gi":5,"k":"k2","c":"TTX","j":0.165,"v":-0.40},{"gi":5,"k":"k2","c":"TTX","j":-0.055,"v":-0.22},
{"gi":6,"k":"k3","c":"TTX","j":0,"v":-5.08},{"gi":6,"k":"k3","c":"TTX","j":-0.165,"v":-1.04},{"gi":6,"k":"k3","c":"TTX","j":0,"v":-0.94},{"gi":6,"k":"k3","c":"TTX","j":0.165,"v":-1.10},{"gi":6,"k":"k3","c":"TTX","j":0.083,"v":-0.57},{"gi":6,"k":"k3","c":"TTX","j":-0.083,"v":-0.20},
{"gi":7,"k":"k4","c":"TTX","j":-0.241,"v":0},{"gi":7,"k":"k4","c":"TTX","j":-0.16,"v":0},{"gi":7,"k":"k4","c":"TTX","j":-0.08,"v":0},{"gi":7,"k":"k4","c":"TTX","j":0,"v":0},{"gi":7,"k":"k4","c":"TTX","j":0.08,"v":0},{"gi":7,"k":"k4","c":"TTX","j":0.16,"v":0},{"gi":7,"k":"k4","c":"TTX","j":0.241,"v":0}
]
},
"layer": [
{"data": {"values": [{"gi": 3.5}]},
 "mark": {"type": "rule", "stroke": "#b4b4b4", "strokeWidth": 7, "strokeDash": [37, 37]},
 "encoding": {"x": {"field": "gi", "type": "quantitative", "scale": {"domain": [-0.5, 7.5], "range": [223, 2080], "nice": false, "zero": false}, "axis": null}}},

{"data": {"name": "tA"},
 "mark": {"type": "line", "strokeJoin": "round"},
 "encoding": {
  "x": {"field": "t", "type": "quantitative", "scale": {"domain": [-0.51, 2.111], "range": [59, 1116], "nice": false, "zero": false}, "axis": null},
  "y": {"field": "i", "type": "quantitative", "scale": {"domain": [-115, 5], "range": [1154.5, 206.5], "nice": false, "zero": false}, "axis": null},
  "color": {"field": "s", "type": "nominal", "scale": {"domain": ["k1", "k2", "k3", "k4"], "range": ["#000000", "#ff8000", "#0a0aff", "#f5147f"]},
   "legend": {"orient": "none", "legendX": 2010, "legendY": 1888, "title": null, "symbolType": "stroke", "symbolSize": 5476, "symbolStrokeWidth": 8, "labelFontSize": 50, "labelOffset": 48, "labelLimit": 3000, "rowPadding": 22, "labelColor": "#000000", "padding": 0,
    "labelExpr": "datum.value == 'k1' ? '47E12-Gal4 (A18a/A18b3, “CLIs-Gal4”)' : datum.value == 'k2' ? '47E12-Gal4, cha3.3-Gal80 (A18a/A18b3, “CLI/2-Gal4”)' : datum.value == 'k3' ? '15B07-Gal4 (A18a, “CLI2-Gal4”)' : 'tsh-Gal80; 47E12-Gal4, cha3.3-Gal80 (A18b3, “CLI1-Gal4”)'"}},
  "strokeWidth": {"condition": {"test": "datum.s == 'k1'", "value": 3.2}, "value": 4.8}}},

{"data": {"values": [{"t": -0.51, "s": 0}, {"t": 0, "s": 1}, {"t": 1, "s": 0}, {"t": 2.111, "s": 0}]},
 "mark": {"type": "line", "interpolate": "step-after", "color": "#000000", "strokeWidth": 6},
 "encoding": {
  "x": {"field": "t", "type": "quantitative", "scale": {"domain": [-0.51, 2.111], "range": [59, 1116], "nice": false, "zero": false}, "axis": null},
  "y": {"field": "s", "type": "quantitative", "scale": {"domain": [0, 1], "range": [202, 155], "nice": false, "zero": false}, "axis": null}}},

{"data": {"values": [{"txt": "A", "t": -0.503, "s": 2.47}]},
 "mark": {"type": "text", "fontSize": 92, "fontWeight": "bold", "align": "left", "baseline": "alphabetic", "color": "#000000"},
 "encoding": {
  "x": {"field": "t", "type": "quantitative", "scale": {"domain": [-0.51, 2.111], "range": [59, 1116], "nice": false, "zero": false}, "axis": null},
  "y": {"field": "s", "type": "quantitative", "scale": {"domain": [0, 1], "range": [202, 155], "nice": false, "zero": false}, "axis": null},
  "text": {"field": "txt"}}},

{"data": {"values": [{"txt": "-TTX", "t": 0.507, "s": 3.24}]},
 "mark": {"type": "text", "fontSize": 52, "fontWeight": "bold", "align": "center", "baseline": "alphabetic", "color": "#000000"},
 "encoding": {
  "x": {"field": "t", "type": "quantitative", "scale": {"domain": [-0.51, 2.111], "range": [59, 1116], "nice": false, "zero": false}, "axis": null},
  "y": {"field": "s", "type": "quantitative", "scale": {"domain": [0, 1], "range": [202, 155], "nice": false, "zero": false}, "axis": null},
  "text": {"field": "txt"}}},

{"data": {"values": [{"txt": "1 s LED", "t": 0.507, "s": 1.40}]},
 "mark": {"type": "text", "fontSize": 50, "align": "center", "baseline": "alphabetic", "color": "#000000"},
 "encoding": {
  "x": {"field": "t", "type": "quantitative", "scale": {"domain": [-0.51, 2.111], "range": [59, 1116], "nice": false, "zero": false}, "axis": null},
  "y": {"field": "s", "type": "quantitative", "scale": {"domain": [0, 1], "range": [202, 155], "nice": false, "zero": false}, "axis": null},
  "text": {"field": "txt"}}},

{"data": {"values": [{"t1": -0.148, "t2": 1.229, "p1": 13.9, "p2": -41.4}]},
 "mark": {"type": "rect", "fill": null, "fillOpacity": 0, "stroke": "#b4b4b4", "strokeWidth": 6, "strokeDash": [36, 38]},
 "encoding": {
  "x": {"field": "t1", "type": "quantitative", "scale": {"domain": [-0.52, 2.13], "range": [1190, 2252], "nice": false, "zero": false}, "axis": null},
  "x2": {"field": "t2"},
  "y": {"field": "p1", "type": "quantitative", "scale": {"domain": [-45, 15], "range": [604.5, 130.5], "nice": false, "zero": false}, "axis": null},
  "y2": {"field": "p2"}}},

{"data": {"name": "tB"},
 "mark": {"type": "line", "strokeJoin": "round"},
 "encoding": {
  "x": {"field": "t", "type": "quantitative", "scale": {"domain": [-0.52, 2.13], "range": [1190, 2252], "nice": false, "zero": false}, "axis": null},
  "y": {"field": "i", "type": "quantitative", "scale": {"domain": [-45, 15], "range": [604.5, 130.5], "nice": false, "zero": false}, "axis": null},
  "color": {"field": "s", "type": "nominal", "scale": {"domain": ["k1", "k2", "k3", "k4"], "range": ["#000000", "#ff8000", "#0a0aff", "#f5147f"]}, "legend": null},
  "strokeWidth": {"condition": {"test": "datum.s == 'k1'", "value": 4}, "value": 5.5}}},

{"data": {"values": [{"t": -0.52, "s": 0}, {"t": 0, "s": 1}, {"t": 1, "s": 0}, {"t": 2.13, "s": 0}]},
 "mark": {"type": "line", "interpolate": "step-after", "color": "#000000", "strokeWidth": 6.5},
 "encoding": {
  "x": {"field": "t", "type": "quantitative", "scale": {"domain": [-0.52, 2.13], "range": [1190, 2252], "nice": false, "zero": false}, "axis": null},
  "y": {"field": "s", "type": "quantitative", "scale": {"domain": [0, 1], "range": [202, 156], "nice": false, "zero": false}, "axis": null}}},

{"data": {"values": [{"txt": "B", "t": -0.5075, "s": 2.52}]},
 "mark": {"type": "text", "fontSize": 92, "fontWeight": "bold", "align": "left", "baseline": "alphabetic", "color": "#000000"},
 "encoding": {
  "x": {"field": "t", "type": "quantitative", "scale": {"domain": [-0.52, 2.13], "range": [1190, 2252], "nice": false, "zero": false}, "axis": null},
  "y": {"field": "s", "type": "quantitative", "scale": {"domain": [0, 1], "range": [202, 156], "nice": false, "zero": false}, "axis": null},
  "text": {"field": "txt"}}},

{"data": {"values": [{"txt": "+2 µM TTX", "t": 0.503, "s": 3.30}]},
 "mark": {"type": "text", "fontSize": 52, "fontWeight": "bold", "align": "center", "baseline": "alphabetic", "color": "#000000"},
 "encoding": {
  "x": {"field": "t", "type": "quantitative", "scale": {"domain": [-0.52, 2.13], "range": [1190, 2252], "nice": false, "zero": false}, "axis": null},
  "y": {"field": "s", "type": "quantitative", "scale": {"domain": [0, 1], "range": [202, 156], "nice": false, "zero": false}, "axis": null},
  "text": {"field": "txt"}}},

{"data": {"values": [{"txt": "1 s LED", "t": 0.511, "s": 1.48}]},
 "mark": {"type": "text", "fontSize": 50, "align": "center", "baseline": "alphabetic", "color": "#000000"},
 "encoding": {
  "x": {"field": "t", "type": "quantitative", "scale": {"domain": [-0.52, 2.13], "range": [1190, 2252], "nice": false, "zero": false}, "axis": null},
  "y": {"field": "s", "type": "quantitative", "scale": {"domain": [0, 1], "range": [202, 156], "nice": false, "zero": false}, "axis": null},
  "text": {"field": "txt"}}},

{"data": {"values": [{"t": 2.155, "p1": -4.3, "p2": -24.3}]},
 "mark": {"type": "rule", "color": "#000000", "strokeWidth": 6},
 "encoding": {
  "x": {"field": "t", "type": "quantitative", "scale": {"domain": [-0.52, 2.13], "range": [1190, 2252], "nice": false, "zero": false}, "axis": null},
  "y": {"field": "p1", "type": "quantitative", "scale": {"domain": [-45, 15], "range": [604.5, 130.5], "nice": false, "zero": false}, "axis": null},
  "y2": {"field": "p2"}}},

{"data": {"values": [{"txt": "20 pA", "t": 2.235, "p": -15.3}]},
 "mark": {"type": "text", "fontSize": 51, "align": "left", "baseline": "middle", "color": "#000000"},
 "encoding": {
  "x": {"field": "t", "type": "quantitative", "scale": {"domain": [-0.52, 2.13], "range": [1190, 2252], "nice": false, "zero": false}, "axis": null},
  "y": {"field": "p", "type": "quantitative", "scale": {"domain": [-45, 15], "range": [604.5, 130.5], "nice": false, "zero": false}, "axis": null},
  "text": {"field": "txt"}}},

{"data": {"values": [{"t1": -0.141, "t2": 1.698, "p1": 6.35, "p2": -48.5}]},
 "mark": {"type": "rect", "fill": null, "fillOpacity": 0, "stroke": "#b4b4b4", "strokeWidth": 5},
 "encoding": {
  "x": {"field": "t1", "type": "quantitative", "scale": {"domain": [-0.132, 1.299], "range": [1213, 2104], "nice": false, "zero": false}, "axis": null},
  "x2": {"field": "t2"},
  "y": {"field": "p1", "type": "quantitative", "scale": {"domain": [-50, 10], "range": [1830.5, 639.5], "nice": false, "zero": false}, "axis": null},
  "y2": {"field": "p2"}}},

{"data": {"name": "tB"},
 "transform": [{"filter": "datum.t >= -0.1325 && datum.t <= 1.3"}],
 "mark": {"type": "line", "strokeJoin": "round"},
 "encoding": {
  "x": {"field": "t", "type": "quantitative", "scale": {"domain": [-0.132, 1.299], "range": [1213, 2104], "nice": false, "zero": false}, "axis": null},
  "y": {"field": "i", "type": "quantitative", "scale": {"domain": [-50, 10], "range": [1830.5, 639.5], "nice": false, "zero": false}, "axis": null},
  "color": {"field": "s", "type": "nominal", "scale": {"domain": ["k1", "k2", "k3", "k4"], "range": ["#000000", "#ff8000", "#0a0aff", "#f5147f"]}, "legend": null},
  "strokeWidth": {"condition": {"test": "datum.s == 'k1'", "value": 4.5}, "value": 7.5}}},

{"data": {"values": [{"t": -0.132, "s": 0}, {"t": 0, "s": 1}, {"t": 1, "s": 0}, {"t": 1.299, "s": 0}]},
 "mark": {"type": "line", "interpolate": "step-after", "color": "#000000", "strokeWidth": 4.5},
 "encoding": {
  "x": {"field": "t", "type": "quantitative", "scale": {"domain": [-0.132, 1.299], "range": [1213, 2104], "nice": false, "zero": false}, "axis": null},
  "y": {"field": "s", "type": "quantitative", "scale": {"domain": [0, 1], "range": [784, 738], "nice": false, "zero": false}, "axis": null}}},

{"data": {"values": [{"t": 1.318, "p1": -3.0, "p2": -23.0}]},
 "mark": {"type": "rule", "color": "#000000", "strokeWidth": 5},
 "encoding": {
  "x": {"field": "t", "type": "quantitative", "scale": {"domain": [-0.132, 1.299], "range": [1213, 2104], "nice": false, "zero": false}, "axis": null},
  "y": {"field": "p1", "type": "quantitative", "scale": {"domain": [-50, 10], "range": [1830.5, 639.5], "nice": false, "zero": false}, "axis": null},
  "y2": {"field": "p2"}}},

{"data": {"values": [{"txt": "20 pA", "t": 1.373, "p": -12.9}]},
 "mark": {"type": "text", "fontSize": 51, "align": "left", "baseline": "middle", "color": "#000000"},
 "encoding": {
  "x": {"field": "t", "type": "quantitative", "scale": {"domain": [-0.132, 1.299], "range": [1213, 2104], "nice": false, "zero": false}, "axis": null},
  "y": {"field": "p", "type": "quantitative", "scale": {"domain": [-50, 10], "range": [1830.5, 639.5], "nice": false, "zero": false}, "axis": null},
  "text": {"field": "txt"}}},

{"data": {"name": "bars"},
 "mark": {"type": "bar", "orient": "vertical", "width": 140, "strokeWidth": 7},
 "encoding": {
  "x": {"field": "gi", "type": "quantitative", "scale": {"domain": [-0.5, 7.5], "range": [223, 2080], "nice": false, "zero": false},
   "axis": {"orient": "bottom", "offset": -234, "values": [0, 1, 2, 3, 4, 5, 6, 7], "title": null, "grid": false,
    "labelExpr": "['A18a/A18b3','A18a/A18b3','A18a','A18b3','A18a/A18b3','A18a/A18b3','A18a','A18b3'][datum.value]",
    "domainColor": "#000000", "domainWidth": 6, "tickColor": "#000000", "tickWidth": 6, "tickSize": 18,
    "labelFontSize": 37, "labelFontWeight": "bold", "labelColor": "#1a1a1a", "labelPadding": 22, "labelOverlap": false, "labelFlush": false, "labelLimit": 500}},
  "y": {"field": "m", "type": "quantitative", "stack": null, "scale": {"domain": [-20, 0], "range": [1261, 2410], "nice": false, "zero": false},
   "axis": {"orient": "left", "offset": -227, "values": [-20, -15, -10, -5, 0], "grid": false,
    "labelExpr": "datum.value == 0 ? '0' : '-' + abs(datum.value)",
    "domainColor": "#000000", "domainWidth": 6, "tickColor": "#000000", "tickWidth": 5, "tickSize": 20,
    "labelFontSize": 52, "labelColor": "#000000", "labelPadding": 15,
    "title": "Current density (pA/pF)", "titleFontSize": 75, "titleFontWeight": "normal", "titleColor": "#000000", "titlePadding": 31}},
  "fill": {"field": "k", "type": "nominal", "scale": {"domain": ["k1", "k2", "k3", "k4"], "range": ["#d4d4d4", "#fec48c", "#9cc5f5", "#f5147f"]}, "legend": null},
  "stroke": {"field": "k", "type": "nominal", "scale": {"domain": ["k1", "k2", "k3", "k4"], "range": ["#676767", "#ff8000", "#0a0aff", "#f5147f"]}, "legend": null}}},

{"data": {"name": "bars"},
 "transform": [{"filter": "isValid(datum.lo)"}],
 "mark": {"type": "rule", "strokeWidth": 7},
 "encoding": {
  "x": {"field": "gi", "type": "quantitative", "scale": {"domain": [-0.5, 7.5], "range": [223, 2080], "nice": false, "zero": false}, "axis": null},
  "y": {"field": "lo", "type": "quantitative", "scale": {"domain": [-20, 0], "range": [1261, 2410], "nice": false, "zero": false}, "axis": null},
  "y2": {"field": "hi"},
  "color": {"field": "k", "type": "nominal", "scale": {"domain": ["k1", "k2", "k3", "k4"], "range": ["#676767", "#ff8000", "#0a0aff", "#f5147f"]}, "legend": null}}},

{"data": {"name": "bars"},
 "transform": [{"filter": "isValid(datum.lo)"}, {"fold": ["lo", "hi"], "as": ["end", "ev"]}],
 "mark": {"type": "tick", "orient": "horizontal", "size": 80, "thickness": 7},
 "encoding": {
  "x": {"field": "gi", "type": "quantitative", "scale": {"domain": [-0.5, 7.5], "range": [223, 2080], "nice": false, "zero": false}, "axis": null},
  "y": {"field": "ev", "type": "quantitative", "scale": {"domain": [-20, 0], "range": [1261, 2410], "nice": false, "zero": false}, "axis": null},
  "color": {"field": "k", "type": "nominal", "scale": {"domain": ["k1", "k2", "k3", "k4"], "range": ["#676767", "#ff8000", "#0a0aff", "#f5147f"]}, "legend": null}}},

{"data": {"name": "pts"},
 "mark": {"type": "point", "filled": true, "opacity": 1, "strokeWidth": 0},
 "encoding": {
  "x": {"field": "gi", "type": "ordinal", "scale": {"type": "band", "domain": [0, 1, 2, 3, 4, 5, 6, 7], "range": [223, 2080], "paddingInner": 0, "paddingOuter": 0}, "axis": null},
  "xOffset": {"field": "j", "type": "quantitative", "scale": {"domain": [-0.5, 0.5], "range": [0, 232.125], "nice": false, "zero": false}},
  "y": {"field": "v", "type": "quantitative", "scale": {"domain": [-20, 0], "range": [1261, 2410], "nice": false, "zero": false}, "axis": null},
  "color": {"field": "k", "type": "nominal", "scale": {"domain": ["k1", "k2", "k3", "k4"], "range": ["#000000", "#8c5a1e", "#00006e", "#f5147f"]}, "legend": null},
  "shape": {"field": "c", "type": "nominal", "scale": {"domain": ["-TTX", "TTX"], "range": ["square", "circle"]}, "legend": null},
  "size": {"field": "c", "type": "ordinal", "scale": {"domain": ["-TTX", "TTX"], "range": [680, 580]}, "legend": null}}},

{"data": {"values": [{"a": 0, "b": 3, "v": 2.07}, {"a": 4, "b": 7, "v": 2.07}]},
 "mark": {"type": "rule", "color": "#000000", "strokeWidth": 6},
 "encoding": {
  "x": {"field": "a", "type": "quantitative", "scale": {"domain": [-0.5, 7.5], "range": [223, 2080], "nice": false, "zero": false}, "axis": null},
  "x2": {"field": "b"},
  "y": {"field": "v", "type": "quantitative", "scale": {"domain": [-20, 0], "range": [1261, 2410], "nice": false, "zero": false}, "axis": null}}},

{"data": {"values": [{"txt": "-TTX", "gi": 1.5, "v": 3.22}, {"txt": "+2 µM TTX", "gi": 5.5, "v": 3.22}]},
 "mark": {"type": "text", "fontSize": 51, "fontWeight": "bold", "align": "center", "baseline": "alphabetic", "color": "#000000"},
 "encoding": {
  "x": {"field": "gi", "type": "quantitative", "scale": {"domain": [-0.5, 7.5], "range": [223, 2080], "nice": false, "zero": false}, "axis": null},
  "y": {"field": "v", "type": "quantitative", "scale": {"domain": [-20, 0], "range": [1261, 2410], "nice": false, "zero": false}, "axis": null},
  "text": {"field": "txt"}}},

{"data": {"values": [{"txt": "C", "gi": -1.461, "v": -20.40}]},
 "mark": {"type": "text", "fontSize": 96, "fontWeight": "bold", "align": "left", "baseline": "alphabetic", "color": "#000000"},
 "encoding": {
  "x": {"field": "gi", "type": "quantitative", "scale": {"domain": [-0.5, 7.5], "range": [223, 2080], "nice": false, "zero": false}, "axis": null},
  "y": {"field": "v", "type": "quantitative", "scale": {"domain": [-20, 0], "range": [1261, 2410], "nice": false, "zero": false}, "axis": null},
  "text": {"field": "txt"}}}
]
}
